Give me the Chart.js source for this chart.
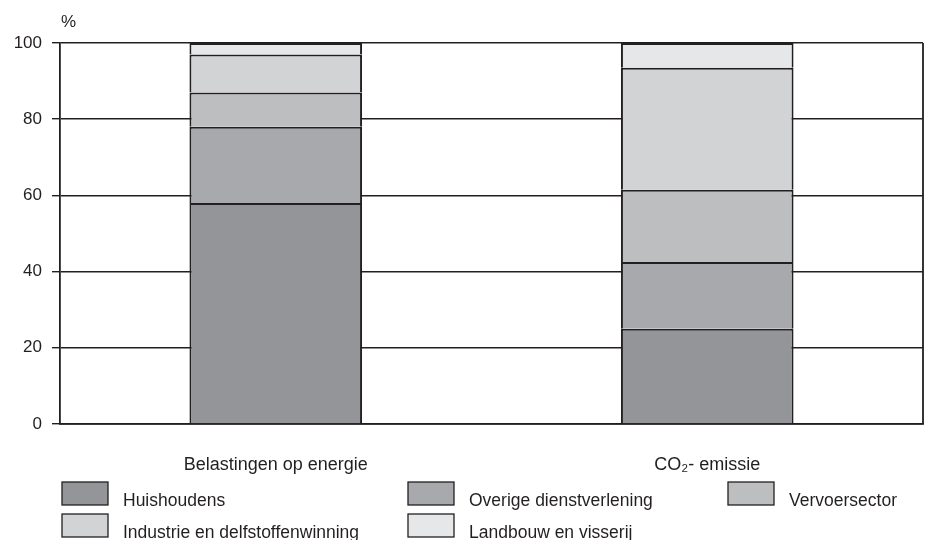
<!DOCTYPE html>
<html>
<head>
<meta charset="utf-8">
<script src="https://cdn.jsdelivr.net/npm/chart.js@4.4.1/dist/chart.umd.min.js"></script>
<style>
  html, body { margin: 0; padding: 0; background: #ffffff; }
  #wrap { width: 926px; height: 540px; position: relative; }
</style>
</head>
<body>
<div id="wrap"><canvas id="c" width="926" height="540"></canvas></div>
<script>
// Aandeel per sector (%)
const categories = ['Belastingen op energie', 'CO\u2082- emissie'];
const huishoudens = [58, 25];
const overigeDienstverlening = [20, 17.5];
const vervoersector = [9, 19];
const industrie = [10, 32];
const landbouw = [3, 6.5];
const yTicks = [0, 20, 40, 60, 80, 100];

const INK = '#231f20';
const FONT = "'Liberation Sans', Arial, sans-serif";

const seriesDefs = [
  { label: 'Huishoudens', data: huishoudens, color: '#939598' },
  { label: 'Overige dienstverlening', data: overigeDienstverlening, color: '#a7a9ac' },
  { label: 'Vervoersector', data: vervoersector, color: '#bcbec0' },
  { label: 'Industrie en delfstoffenwinning', data: industrie, color: '#d1d3d4' },
  { label: 'Landbouw en visserij', data: landbouw, color: '#e6e7e8' }
];

// Right-hand frame line and the "%" unit label
const framePlugin = {
  id: 'frame',
  afterDraw(chart) {
    const { ctx, chartArea } = chart;
    ctx.save();
    ctx.strokeStyle = INK;
    ctx.lineWidth = 1.8;
    ctx.beginPath();
    ctx.moveTo(chartArea.right, chartArea.top);
    ctx.lineTo(chartArea.right, chartArea.bottom);
    ctx.stroke();
    ctx.fillStyle = INK;
    ctx.font = '17px ' + FONT;
    ctx.textAlign = 'left';
    ctx.textBaseline = 'middle';
    ctx.fillText('%', 61, 22);
    ctx.restore();
  }
};

// Legend laid out in a fixed three-column grid
const gridLegendPlugin = {
  id: 'gridLegend',
  afterDraw(chart) {
    const { ctx } = chart;
    const cols = [62, 408, 728];
    const rows = [482, 514];
    const boxW = 46, boxH = 23, gap = 15;
    ctx.save();
    ctx.font = '17.5px ' + FONT;
    ctx.textAlign = 'left';
    ctx.textBaseline = 'alphabetic';
    chart.data.datasets.forEach((ds, i) => {
      const x = cols[i % 3];
      const y = rows[Math.floor(i / 3)];
      ctx.fillStyle = ds.backgroundColor;
      ctx.fillRect(x, y, boxW, boxH);
      ctx.strokeStyle = INK;
      ctx.lineWidth = 1.3;
      ctx.strokeRect(x, y, boxW, boxH);
      ctx.fillStyle = INK;
      ctx.fillText(ds.label, x + boxW + gap, y + boxH + 1);
    });
    ctx.restore();
  }
};

new Chart(document.getElementById('c'), {
  type: 'bar',
  data: {
    labels: categories,
    datasets: seriesDefs.map(s => ({
      label: s.label,
      data: s.data,
      backgroundColor: s.color,
      borderColor: INK,
      borderWidth: 2,
      borderSkipped: 'start',
      categoryPercentage: 1.0,
      barPercentage: 0.4
    }))
  },
  options: {
    responsive: false,
    animation: false,
    layout: { padding: { top: 43, right: 3, left: 0, bottom: 0 } },
    plugins: {
      legend: { display: false },
      tooltip: { enabled: false }
    },
    scales: {
      x: {
        stacked: true,
        grid: { display: false },
        border: { display: true, color: INK, width: 1.8 },
        ticks: { color: INK, font: { family: FONT, size: 18 }, padding: 22 },
        afterFit(scale) { scale.height = 116; }
      },
      y: {
        stacked: true,
        min: 0,
        max: 100,
        afterBuildTicks(scale) { scale.ticks = yTicks.map(v => ({ value: v })); },
        grid: { color: INK, lineWidth: 1.4, tickLength: 8, tickColor: INK, drawTicks: true },
        border: { display: true, color: INK, width: 1.8 },
        ticks: { color: INK, font: { family: FONT, size: 17 }, padding: 10 },
        afterFit(scale) { scale.width = 60; }
      }
    }
  },
  plugins: [framePlugin, gridLegendPlugin]
});
</script>
</body>
</html>
